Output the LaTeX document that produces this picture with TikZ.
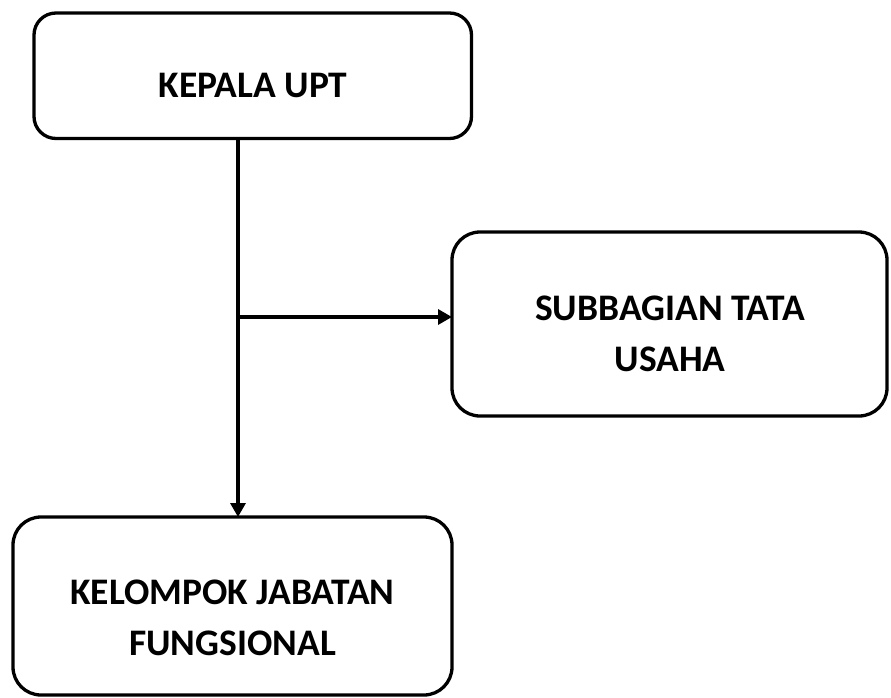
\documentclass[tikz,border=0pt]{standalone}
\usepackage{fontspec}
\setmainfont{Carlito}
\usetikzlibrary{arrows.meta}
\begin{document}
\begin{tikzpicture}[x=1pt,y=-1pt,
  box/.style={draw=black, line width=3.3pt, rounded corners=#1, inner sep=0pt, outer sep=0pt},
  lbl/.style={inner sep=0pt, align=center, font=\fontsize{37.5}{51.5}\selectfont\bfseries},
  conn/.style={line width=3.3pt, -{Triangle[length=14pt,width=15pt]}}]
\useasboundingbox (0,0) rectangle (891,698);
\node[box=22pt, minimum width=437.5pt, minimum height=125.5pt] (kepala) at (252.75,75.75) {};
\node[box=28pt, minimum width=435pt, minimum height=184pt] (subbag) at (669.5,324) {};
\node[box=28pt, minimum width=439pt, minimum height=178pt] (kelompok) at (232.5,606) {};
\node[lbl] (tkepala) at (253,85.5) {KEPALA UPT};
\node[lbl] (tsubbag) at (670,334) {SUBBAGIAN TATA\\USAHA};
\node[lbl] (tkelompok) at (232.5,618) {KELOMPOK JABATAN\\FUNGSIONAL};
\coordinate (j) at (238,317);
\draw[conn] (kepala.south -| j) -- (kelompok.north -| j);
\draw[conn] (j) -- (subbag.west |- j);
\end{tikzpicture}
\end{document}
